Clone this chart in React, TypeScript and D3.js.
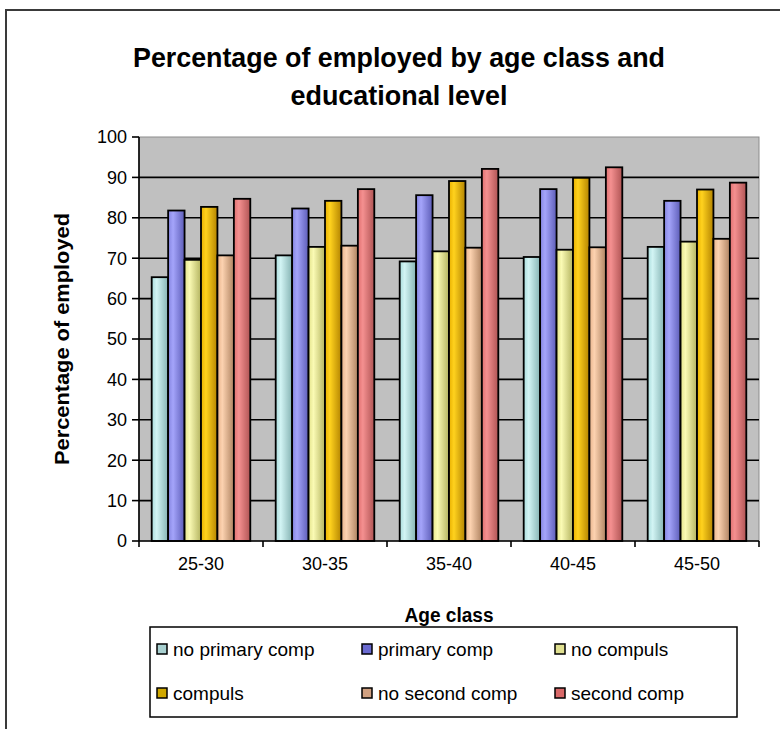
import React from "react";
import * as d3 from "d3";

// Age classes on the x axis
const ageClasses = ["25-30", "30-35", "35-40", "40-45", "45-50"];

// Educational levels (one bar per level in each age class)
const levels = [
  "no primary comp",
  "primary comp",
  "no compuls",
  "compuls",
  "no second comp",
  "second comp",
];

// Percentage of employed, one array per educational level (ordered by age class)
const noPrimaryComp = [65.3, 70.7, 69.2, 70.3, 72.8];
const primaryComp = [81.8, 82.3, 85.6, 87.1, 84.2];
const noCompuls = [69.6, 72.8, 71.7, 72.1, 74.1];
const compuls = [82.7, 84.2, 89.1, 89.9, 87.0];
const noSecondComp = [70.7, 73.1, 72.6, 72.7, 74.8];
const secondComp = [84.7, 87.1, 92.1, 92.5, 88.7];

const seriesValues = [noPrimaryComp, primaryComp, noCompuls, compuls, noSecondComp, secondComp];

const yTicks = [0, 10, 20, 30, 40, 50, 60, 70, 80, 90, 100];

// Shading per level: [edge, highlight, shadow]
const shades: [string, string, string][] = [
  ["#a9dcdc", "#d2f4f4", "#86b4b4"],
  ["#8585e0", "#a4a4fa", "#5d5db8"],
  ["#e4e48c", "#fafab4", "#b4b460"],
  ["#e8b000", "#ffd21e", "#b48400"],
  ["#e8b48c", "#fcd2b0", "#b08462"],
  ["#e07070", "#f49090", "#b05454"],
];

const legendSwatch = ["#a8d0d0", "#6a6ad0", "#e0e090", "#d0a800", "#d0a080", "#d86868"];

export default function App() {
  const width = 780;
  const height = 729;
  const plot = { left: 139, right: 759, top: 137, bottom: 541 };

  const x = d3.scaleBand<string>().domain(ageClasses).range([plot.left, plot.right]);
  const inner = d3
    .scaleBand<string>()
    .domain(levels)
    .range([12.7, x.bandwidth() - 12.7]);
  const y = d3.scaleLinear().domain([0, 100]).range([plot.bottom, plot.top]);

  const font = "Arial, 'Liberation Sans', sans-serif";

  const legendCols = [157, 362, 555];
  const legendRows = [649, 693];

  return (
    <svg
      width={width}
      height={height}
      style={{ position: "absolute", left: 0, top: 0, background: "#fff" }}
      fontFamily={font}
    >
      <defs>
        {shades.map((s, i) => (
          <linearGradient key={i} id={`bar-grad-${i}`} x1="0" x2="1" y1="0" y2="0">
            <stop offset="0" stopColor={s[0]} />
            <stop offset="0.3" stopColor={s[1]} />
            <stop offset="1" stopColor={s[2]} />
          </linearGradient>
        ))}
      </defs>

      {/* chart frame */}
      <rect x={6} y={10} width={800} height={760} fill="#fff" stroke="#3a3a3a" strokeWidth={2} />

      {/* title */}
      <text x={399} y={67} textAnchor="middle" fontSize={28} fontWeight="bold" textLength={532} lengthAdjust="spacingAndGlyphs">
        Percentage of employed by age class and
      </text>
      <text x={399} y={105} textAnchor="middle" fontSize={28} fontWeight="bold" textLength={217} lengthAdjust="spacingAndGlyphs">
        educational level
      </text>

      {/* plot area */}
      <rect
        x={plot.left}
        y={plot.top}
        width={plot.right - plot.left}
        height={plot.bottom - plot.top}
        fill="#c0c0c0"
        stroke="#8c8c8c"
        strokeWidth={1}
      />

      {/* gridlines */}
      {yTicks.slice(1, -1).map((t) => (
        <line key={t} x1={plot.left} x2={plot.right} y1={y(t)} y2={y(t)} stroke="#000" strokeWidth={1.6} />
      ))}

      {/* bars */}
      {ageClasses.map((c, ci) => (
        <g key={c} transform={`translate(${x(c)},0)`}>
          {levels.map((lv, li) => {
            const v = seriesValues[li][ci];
            return (
              <rect
                key={lv}
                x={inner(lv)}
                y={y(v)}
                width={inner.bandwidth()}
                height={y(0) - y(v)}
                fill={`url(#bar-grad-${li})`}
                stroke="#000"
                strokeWidth={1.8}
              />
            );
          })}
        </g>
      ))}

      {/* axes */}
      <line x1={plot.left} x2={plot.left} y1={plot.top} y2={plot.bottom} stroke="#000" strokeWidth={1.6} />
      <line x1={plot.left} x2={plot.right} y1={plot.bottom} y2={plot.bottom} stroke="#000" strokeWidth={1.6} />

      {yTicks.map((t) => (
        <g key={t}>
          <line x1={plot.left - 7} x2={plot.left} y1={y(t)} y2={y(t)} stroke="#000" strokeWidth={1.6} />
          <text x={plot.left - 12} y={y(t)} dy="0.35em" textAnchor="end" fontSize={18}>
            {t}
          </text>
        </g>
      ))}

      {ageClasses.map((c) => (
        <line
          key={`tk-${c}`}
          x1={x(c)!}
          x2={x(c)!}
          y1={plot.bottom}
          y2={plot.bottom + 6}
          stroke="#000"
          strokeWidth={1.6}
        />
      ))}
      <line x1={plot.right} x2={plot.right} y1={plot.bottom} y2={plot.bottom + 6} stroke="#000" strokeWidth={1.6} />

      {ageClasses.map((c) => (
        <text key={`lb-${c}`} x={x(c)! + x.bandwidth() / 2} y={570} textAnchor="middle" fontSize={18}>
          {c}
        </text>
      ))}

      {/* axis titles */}
      <text x={449} y={622} textAnchor="middle" fontSize={20} fontWeight="bold" textLength={89} lengthAdjust="spacingAndGlyphs">
        Age class
      </text>
      <text
        transform={`translate(69,${(plot.top + plot.bottom) / 2}) rotate(-90)`}
        textAnchor="middle"
        fontSize={20}
        fontWeight="bold"
        textLength={252}
        lengthAdjust="spacingAndGlyphs"
      >
        Percentage of employed
      </text>

      {/* legend */}
      <rect x={150} y={627} width={587} height={90} fill="#fff" stroke="#000" strokeWidth={1.5} />
      {levels.map((lv, i) => {
        const cx = legendCols[i % 3];
        const cy = legendRows[Math.floor(i / 3)];
        return (
          <g key={`lg-${lv}`}>
            <rect x={cx} y={cy - 5} width={10} height={10} fill={legendSwatch[i]} stroke="#000" strokeWidth={1.5} />
            <text x={cx + 16} y={cy} dy="0.35em" fontSize={19}>
              {lv}
            </text>
          </g>
        );
      })}
    </svg>
  );
}
